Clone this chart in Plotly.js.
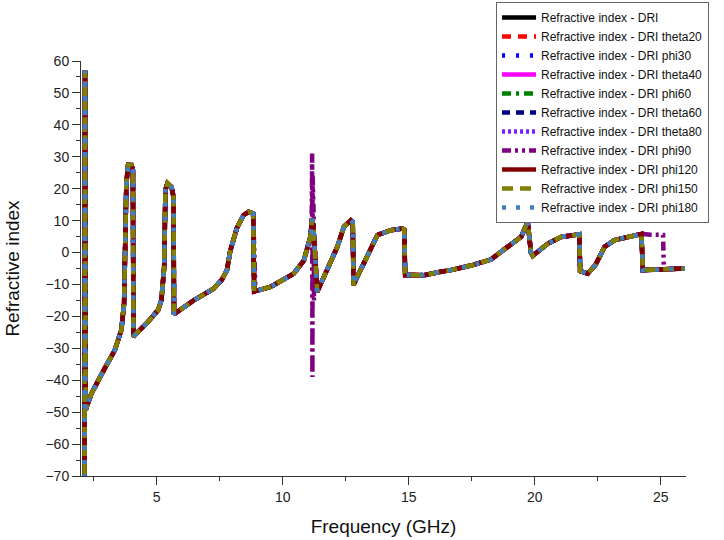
<!DOCTYPE html>
<html>
<head>
<meta charset="utf-8">
<script src="https://cdn.plot.ly/plotly-3.0.1.min.js"></script>
<style>html,body{margin:0;padding:0;background:#fff;}#chart{width:724px;height:540px;}</style>
</head>
<body>
<div id="chart"></div>
<script>
// Frequency (GHz) sample points
const freq = [2.14, 2.16, 2.17, 2.18, 2.41, 2.68, 2.94, 3.34, 3.60, 3.71, 3.76, 3.80, 3.87, 4.00, 4.06, 4.08, 4.20, 4.66, 5.06, 5.19, 5.30, 5.35, 5.43, 5.59, 5.67, 5.69, 6.47, 7.26, 7.59, 7.79, 7.92, 8.19, 8.45, 8.65, 8.83, 8.87, 9.51, 10.44, 10.84, 11.10, 11.17, 11.22, 11.37, 11.77, 12.17, 12.43, 12.70, 12.78, 12.81, 12.96, 13.36, 13.76, 14.29, 14.75, 14.82, 14.86, 15.08, 15.61, 16.27, 16.67, 17.5, 18.26, 18.79, 19.46, 19.72, 19.85, 19.92, 20.52, 21.05, 21.5, 21.77, 21.80, 22.1, 22.4, 22.77, 23.17, 23.70, 24.23, 24.29, 24.89, 25.95];
// Refractive index (shared by all overlapping DRI curves)
const nDRI = [-75, 57, -75, -49.4, -44.2, -40, -36.3, -30.6, -24.3, -15.9, 0.8, 21.7, 27.4, 27.4, 25.8, -26.4, -25.3, -21.7, -18, -14.9, -4.5, 19.6, 21.7, 20.5, 17.5, -19.3, -15, -11.3, -8.5, -5.5, 0.5, 7.8, 11.7, 12.8, 12.2, -12.2, -10.8, -6.6, -2.5, 4.9, 10.6, 8, -12.3, -5.5, 1.8, 8.1, 10.1, 9.5, -10.2, -7.6, -1.3, 5.5, 7, 7.5, 7.2, -7.1, -7.0, -7.1, -6.0, -5.5, -4.0, -2.2, 1.0, 4.9, 9.6, 0.0, -1.0, 2.8, 4.9, 5.5, 5.7, -5.8, -6.6, -4, 1.8, 3.9, 4.9, 5.8, -5.5, -5.2, -5.0];
// phi90 deviates around 11.2 GHz and above 24 GHz
const freqPhi90 = [2.14, 2.16, 2.17, 2.18, 2.41, 2.68, 2.94, 3.34, 3.60, 3.71, 3.76, 3.80, 3.87, 4.00, 4.06, 4.08, 4.20, 4.66, 5.06, 5.19, 5.30, 5.35, 5.43, 5.59, 5.67, 5.69, 6.47, 7.26, 7.59, 7.79, 7.92, 8.19, 8.45, 8.65, 8.83, 8.92, 9.51, 10.44, 10.84, 11.10, 11.15, 11.17, 11.18, 11.19, 11.20, 11.21, 11.22, 11.23, 11.24, 11.26, 11.37, 11.77, 12.17, 12.43, 12.70, 12.78, 12.81, 12.96, 13.36, 13.76, 14.29, 14.75, 14.82, 14.86, 15.08, 15.61, 16.27, 16.67, 17.5, 18.26, 18.79, 19.46, 19.72, 19.85, 19.92, 20.52, 21.05, 21.5, 21.77, 21.80, 22.1, 22.4, 22.77, 23.17, 23.70, 24.23, 24.6, 25.09, 25.12, 25.95];
const nPhi90 = [-75, 57, -75, -49.4, -44.2, -40, -36.3, -30.6, -24.3, -15.9, 0.8, 21.7, 27.4, 27.4, 25.8, -26.4, -25.3, -21.7, -18, -14.9, -4.5, 19.6, 21.7, 20.5, 17.5, -19.3, -15, -11.3, -8.5, -5.5, 0.5, 7.8, 11.7, 12.8, 12.2, -12.0, -10.8, -6.6, -2.5, 4.9, 9, 31, -39, 24, -30, 18, -22, 12, -15, 5, -12.3, -5.5, 1.8, 8.1, 10.1, 9.5, -10.2, -7.6, -1.3, 5.5, 7, 7.5, 7.2, -7.1, -7.0, -7.1, -6.0, -5.5, -4.0, -2.2, 1.0, 4.9, 9.6, 0.0, -1.0, 2.8, 4.9, 5.5, 5.7, -5.8, -6.6, -4, 1.8, 3.9, 4.9, 5.8, 5.6, 5.5, -5.2, -5.0];

const seriesNames = ["Refractive index - DRI", "Refractive index - DRI theta20", "Refractive index - DRI phi30", "Refractive index - DRI theta40", "Refractive index - DRI phi60", "Refractive index - DRI theta60", "Refractive index - DRI theta80", "Refractive index - DRI phi90", "Refractive index - DRI phi120", "Refractive index - DRI phi150", "Refractive index - DRI phi180"];
const seriesColors = ["#000000", "#ff0000", "#0000ff", "#ff00ff", "#008000", "#000080", "#7a1fff", "#800080", "#800000", "#808000", "#3f7fbf"];
const seriesDash = ["solid", "9px,7px", "3px,11px", "solid", "9px,5px,3px,5px", "8px,6px", "3px,3px", "9px,4px,3px,4px,3px,4px", "solid", "11px,7px", "4px,10px"];

const traces = seriesNames.map((name, i) => {
  const isPhi90 = name.endsWith("phi90");
  return {
    type: "scatter",
    mode: "lines",
    name: name,
    x: isPhi90 ? freqPhi90 : freq,
    y: isPhi90 ? nPhi90 : nDRI,
    line: {color: seriesColors[i], width: 4.5, dash: seriesDash[i]}
  };
});

const font = "'Liberation Sans', Arial, sans-serif";
const layout = {
  width: 724, height: 540,
  paper_bgcolor: "#ffffff", plot_bgcolor: "#ffffff",
  margin: {l: 81, r: 38, t: 61, b: 64, autoexpand: false},
  font: {family: font, color: "#222", size: 14},
  showlegend: true,
  legend: {
    x: 0.686, y: 1.142, xanchor: "left", yanchor: "top",
    bgcolor: "#ffffff", bordercolor: "#666", borderwidth: 1,
    font: {family: font, size: 12, color: "#111"},
    itemwidth: 34, tracegroupgap: 0
  },
  xaxis: {
    range: [2, 26], tick0: 0, dtick: 5,
    ticks: "outside", ticklen: 8, tickwidth: 1, tickcolor: "#333",
    minor: {dtick: 2.5, tick0: 0, ticks: "outside", ticklen: 4, tickcolor: "#333"},
    showline: true, linecolor: "#333", linewidth: 1, mirror: false,
    showgrid: false, zeroline: false,
    tickfont: {family: font, size: 14, color: "#222"},
    title: {text: "Frequency (GHz)", font: {family: font, size: 19, color: "#111"}, standoff: 15}
  },
  yaxis: {
    range: [-70, 60], tick0: 0, dtick: 10,
    ticks: "outside", ticklen: 8, tickwidth: 1, tickcolor: "#333",
    minor: {dtick: 5, tick0: 0, ticks: "outside", ticklen: 4, tickcolor: "#333"},
    showline: true, linecolor: "#333", linewidth: 1, mirror: false,
    showgrid: false, zeroline: false,
    tickfont: {family: font, size: 14, color: "#222"},
    title: {text: "Refractive index", font: {family: font, size: 19, color: "#111"}, standoff: 20}
  }
};

Plotly.newPlot("chart", traces, layout, {displayModeBar: false, staticPlot: true});
</script>
</body>
</html>
